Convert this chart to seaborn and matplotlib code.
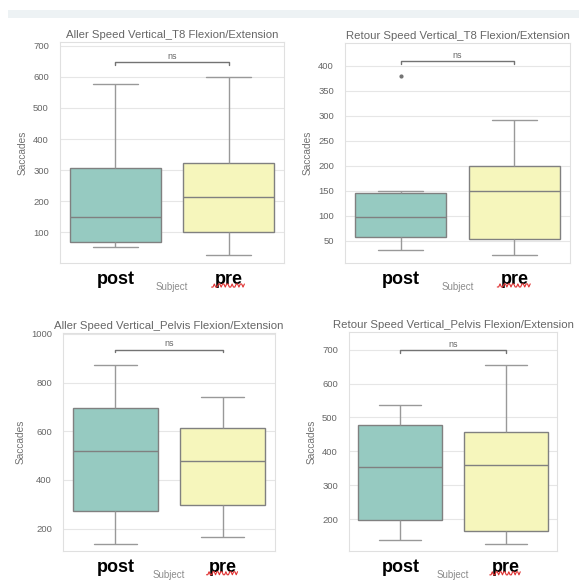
import numpy as np
import pandas as pd
import matplotlib
matplotlib.use("Agg")
import matplotlib.pyplot as plt
from matplotlib.patches import Rectangle
import seaborn as sns

# values (five-number summaries + outliers per group)
subjects = ["post", "pre"]
titles = ["Aller Speed Vertical_T8 Flexion/Extension",
          "Retour Speed Vertical_T8 Flexion/Extension",
          "Aller Speed Vertical_Pelvis Flexion/Extension",
          "Retour Speed Vertical_Pelvis Flexion/Extension"]

aller_t8_post = [54, 62, 69, 110, 149, 230, 308, 440, 577]
aller_t8_pre = [27, 65, 102, 160, 214, 270, 322, 460, 599]
retour_t8_post = [32, 45, 57, 78, 97, 120, 145, 149, 380]
retour_t8_pre = [21, 37, 53, 100, 149, 175, 200, 250, 292]
aller_pelvis_post = [138, 200, 273, 400, 519, 610, 695, 780, 872]
aller_pelvis_pre = [164, 230, 296, 390, 478, 550, 614, 680, 740]
retour_pelvis_post = [137, 165, 196, 280, 355, 420, 477, 510, 538]
retour_pelvis_pre = [127, 145, 165, 260, 361, 410, 457, 560, 654]

series = [(aller_t8_post, aller_t8_pre), (retour_t8_post, retour_t8_pre),
          (aller_pelvis_post, aller_pelvis_pre), (retour_pelvis_post, retour_pelvis_pre)]

ylims = [(2, 712), (5, 445), (108, 1004), (106, 752)]
yticks = [[100, 200, 300, 400, 500, 600, 700],
          [50, 100, 150, 200, 250, 300, 350, 400],
          [200, 400, 600, 800, 1000],
          [200, 300, 400, 500, 600, 700]]
bracket_y = [647, 409, 935, 698]
bracket_drop = [9, 5, 9, 7]

# axes rectangles in pixels: left, top, right, bottom
W, H = 579, 585
boxes_px = [(60, 42, 284, 263), (345, 43, 570, 263),
            (63, 333, 275, 551), (349, 332, 557, 551)]

sns.set_theme(style="whitegrid")
plt.rcParams["font.family"] = ["Liberation Sans", "DejaVu Sans"]

fig = plt.figure(figsize=(W / 100, H / 100), dpi=100)
fig.patch.set_facecolor("white")
fig.patches.append(Rectangle((8 / W, 1 - 18 / H), 1, 8 / H, transform=fig.transFigure,
                             facecolor="#edf2f4", edgecolor="none"))

pal = sns.color_palette("Set3", 2)

for i, (l, t, r, b) in enumerate(boxes_px):
    ax = fig.add_axes([l / W, 1 - b / H, (r - l) / W, (b - t) / H])
    post, pre = series[i]
    df = pd.DataFrame({"Subject": ["post"] * len(post) + ["pre"] * len(pre),
                       "Saccades": post + pre})
    sns.boxplot(data=df, x="Subject", y="Saccades", hue="Subject", order=subjects,
                palette=pal, ax=ax, linewidth=1.0, linecolor="0.5",
                whiskerprops=dict(color="0.6"), capprops=dict(color="0.6"),
                flierprops=dict(marker="o", markersize=2, markerfacecolor="0.45",
                                markeredgecolor="0.45"))
    ax.set_ylim(*ylims[i])
    ax.set_yticks(yticks[i])
    ax.tick_params(axis="y", labelsize=6.8, labelcolor="0.4", pad=2)
    ax.tick_params(axis="x", pad=0)
    ax.set_xticks([0, 1])
    ax.set_xticklabels(subjects, fontsize=13, fontweight="heavy", color="black")
    ax.set_title(titles[i], fontsize=8.2, color="0.4", pad=3)
    ax.set_ylabel("Saccades", fontsize=7.3, color="0.45", labelpad=4)
    ax.set_xlabel("Subject", fontsize=7, color="0.55")
    ax.xaxis.set_label_coords(0.5, -0.085)
    ax.grid(True, color="0.9", linewidth=0.8)
    ax.xaxis.grid(False)
    for s in ax.spines.values():
        s.set_color("0.88")
        s.set_linewidth(0.8)

    # significance bracket
    yb, d = bracket_y[i], bracket_drop[i]
    ax.plot([0, 0, 1, 1], [yb - d, yb, yb, yb - d], color="0.45", linewidth=1.0)
    ax.text(0.5, yb + d * 0.6, "ns", ha="center", va="bottom", fontsize=6.5, color="0.4")

    # spell-check squiggle under "pre"
    xs = np.linspace(0.85, 1.14, 25)
    ax.plot(xs, -0.102 + 0.007 * np.sign(np.sin(xs * 160)), color="#e03030", linewidth=0.8,
            transform=ax.get_xaxis_transform(), clip_on=False)

fig.savefig("out.png", dpi=100, facecolor="white")
